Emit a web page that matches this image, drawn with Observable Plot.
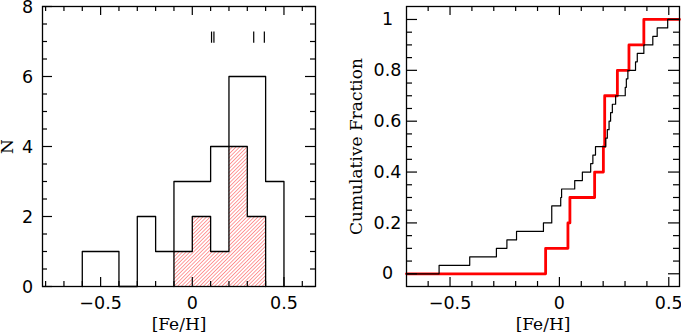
<!DOCTYPE html>
<html><head><meta charset="utf-8">
<script src="https://cdn.jsdelivr.net/npm/d3@7"></script>
<script src="https://cdn.jsdelivr.net/npm/@observablehq/plot@0.6"></script>
<style>
body{margin:0;background:#fff;}
#wrap{position:relative;width:681px;height:334px;overflow:hidden;}
#left,#right{position:absolute;top:0;}
#left{left:0;} #right{left:340px;}
svg{overflow:visible;}
</style></head><body><div id="wrap"><div id="left"></div><div id="right"></div></div>
<script>
// ---- data ----
const binEdges   = [-0.6,-0.5,-0.4,-0.3,-0.2,-0.1,0,0.1,0.2,0.3,0.4,0.5];
const allCounts  = [1,1,0,2,1,3,3,4,6,6,3];
const subEdges   = [-0.1,0,0.1,0.2,0.3,0.4];
const subCounts  = [1,2,1,4,2];
const markerFeH  = [0.105,0.118,0.335,0.393];
const allFeH = [-0.55,-0.41,-0.288,-0.24,-0.196,-0.073,-0.035,-0.035,0.006,0.01,0.07,0.105,0.143,0.153,0.165,
                0.212,0.219,0.227,0.234,0.242,0.257,0.301,0.306,0.313,0.348,0.356,0.386,0.427,0.447,0.495];
const subFeH = [-0.063,0.039,0.048,0.161,0.201,0.207,0.207,0.265,0.318,0.386];
const leftXTickVals = [-0.5,0,0.5];
const leftXTickLabels = ["\u22120.5","0","0.5"];
const leftYTickVals = [0,2,4,6,8];
const leftYTickLabels = ["0","2","4","6","8"];
const rightXTickVals = [-0.5,0,0.5];
const rightXTickLabels = ["\u22120.5","0","0.5"];
const rightYTickVals = [0,0.2,0.4,0.6,0.8,1];
const rightYTickLabels = ["0","0.2","0.4","0.6","0.8","1"];

const numFont = "DejaVu Sans";
const titleFont = "DejaVu Serif";

function stepPts(edges, counts){
  const p = [{x: edges[0], y: 0}];
  counts.forEach((c,i)=>p.push({x: edges[i], y: c}));
  p.push({x: edges[edges.length-1], y: 0});
  return p;
}
function cdfPts(vals, x0, x1){
  const s = vals.slice().sort((a,b)=>a-b);
  const p = [{x: x0, f: 0}];
  s.forEach((v,i)=>p.push({x: v, f: (i+1)/s.length}));
  p.push({x: x1, f: 1});
  return p;
}
function tickMarks(o){
  const {iw, ih, xMaj, xMin, yMaj, yMin, xl, xs, yl, ys} = o;
  const st = {stroke:"#000", strokeWidth:1.2};
  return [
    Plot.ruleX(xMaj, {...st, insetTop: ih - xl}),
    Plot.ruleX(xMaj, {...st, insetBottom: ih - xl}),
    Plot.ruleX(xMin, {...st, insetTop: ih - xs}),
    Plot.ruleX(xMin, {...st, insetBottom: ih - xs}),
    Plot.ruleY(yMaj, {...st, insetRight: iw - yl}),
    Plot.ruleY(yMaj, {...st, insetLeft: iw - yl}),
    Plot.ruleY(yMin, {...st, insetRight: iw - ys}),
    Plot.ruleY(yMin, {...st, insetLeft: iw - ys})
  ];
}
const rnd = v => Math.round(v*1000)/1000;

// ---- left panel ----
{
  const W = 340, H = 334, mL = 42, mR = 25, mT = 6, mB = 48;
  const iw = W - mL - mR, ih = H - mT - mB;
  const xDom = [-0.817, 0.672];
  const xMin = d3.range(-8, 7).map(i => rnd(i*0.1)).filter(v => !leftXTickVals.includes(v));
  const yMin = d3.range(1, 16).map(i => i*0.5).filter(v => !leftYTickVals.includes(v));
  const subRects = subCounts.map((c,i)=>({x1: subEdges[i], x2: subEdges[i+1], y: c}));
  const plot = Plot.plot({
    width: W, height: H, marginLeft: mL, marginRight: mR, marginTop: mT, marginBottom: mB,
    x: {domain: xDom, axis: null},
    y: {domain: [0, 8], axis: null},
    marks: [
      Plot.rectY(subRects, {x1:"x1", x2:"x2", y:"y", fill:"url(#hatch)", inset:0}),
      Plot.line(stepPts(subEdges, subCounts), {x:"x", y:"y", curve:"step-after", stroke:"#000", strokeWidth:1.3}),
      Plot.line(stepPts(binEdges, allCounts), {x:"x", y:"y", curve:"step-after", stroke:"#000", strokeWidth:1.3}),
      Plot.ruleX(markerFeH, {y1: 6.95, y2: 7.27, stroke:"#000", strokeWidth:1.2}),
      ...tickMarks({iw, ih, xMaj: leftXTickVals, xMin, yMaj: leftYTickVals, yMin, xl: 9, xs: 5, yl: 10, ys: 5}),
      Plot.frame({stroke:"#000", strokeWidth:1.3}),
      Plot.text(leftXTickVals, {x: d=>d, text: (d,i)=>leftXTickLabels[i], frameAnchor:"bottom", dy: 17, lineAnchor:"middle", fontFamily: numFont, fontSize: 17.5, fill:"#000"}),
      Plot.text(leftYTickVals, {y: d=>d, text: (d,i)=>leftYTickLabels[i], frameAnchor:"left", dx: -15, dy: 1, textAnchor:"middle", lineAnchor:"middle", fontFamily: numFont, fontSize: 17.5, fill:"#000"}),
      Plot.text(["[Fe/H]"], {frameAnchor:"bottom", dy: 38, textAnchor:"middle", lineAnchor:"middle", fontFamily: titleFont, fontSize: 17, fill:"#000"}),
      Plot.text(["N"], {frameAnchor:"left", dx: -35, rotate: -90, textAnchor:"middle", lineAnchor:"middle", fontFamily: titleFont, fontSize: 17, fill:"#000"})
    ]
  });
  const svg = d3.select(plot);
  const pat = svg.insert("defs", ":first-child").append("pattern")
    .attr("id","hatch").attr("patternUnits","userSpaceOnUse")
    .attr("width", 2.6).attr("height", 2.6).attr("patternTransform","rotate(45)");
  pat.append("line").attr("x1",0).attr("y1",0).attr("x2",0).attr("y2",2.6)
    .attr("stroke","#f22").attr("stroke-width",0.9);
  document.getElementById("left").appendChild(plot);
}

// ---- right panel ----
{
  const W = 341, H = 334, mL = 66, mR = 2, mT = 6, mB = 48;
  const iw = W - mL - mR, ih = H - mT - mB;
  const xDom = [-0.699, 0.549];
  const xMin = d3.range(-6, 6).map(i => rnd(i*0.1)).filter(v => !rightXTickVals.includes(v));
  const yMin = d3.range(1, 21).map(i => rnd(i*0.05)).filter(v => !rightYTickVals.includes(v));
  const plot = Plot.plot({
    width: W, height: H, marginLeft: mL, marginRight: mR, marginTop: mT, marginBottom: mB,
    x: {domain: xDom, axis: null},
    y: {domain: [-0.05, 1.051], axis: null},
    marks: [
      Plot.line(cdfPts(subFeH, xDom[0], xDom[1]), {x:"x", y:"f", curve:"step-after", stroke:"#f00", strokeWidth:2.8}),
      Plot.line(cdfPts(allFeH, xDom[0], xDom[1]), {x:"x", y:"f", curve:"step-after", stroke:"#000", strokeWidth:1.2}),
      ...tickMarks({iw, ih, xMaj: rightXTickVals, xMin, yMaj: rightYTickVals, yMin, xl: 9, xs: 5, yl: 11, ys: 6}),
      Plot.frame({stroke:"#000", strokeWidth:1.3}),
      Plot.text(rightXTickVals, {x: d=>d, text: (d,i)=>rightXTickLabels[i], frameAnchor:"bottom", dy: 17, lineAnchor:"middle", fontFamily: numFont, fontSize: 17.5, fill:"#000"}),
      Plot.text(rightYTickVals, {y: d=>d, text: (d,i)=>rightYTickLabels[i], frameAnchor:"left", dx: -19, textAnchor:"middle", lineAnchor:"middle", fontFamily: numFont, fontSize: 17.5, fill:"#000"}),
      Plot.text(["[Fe/H]"], {frameAnchor:"bottom", dy: 38, textAnchor:"middle", lineAnchor:"middle", fontFamily: titleFont, fontSize: 17, fill:"#000"}),
      Plot.text(["Cumulative Fraction"], {frameAnchor:"left", dx: -50, rotate: -90, textAnchor:"middle", lineAnchor:"middle", fontFamily: titleFont, fontSize: 17, fill:"#000"})
    ]
  });
  document.getElementById("right").appendChild(plot);
}
</script></body></html>
